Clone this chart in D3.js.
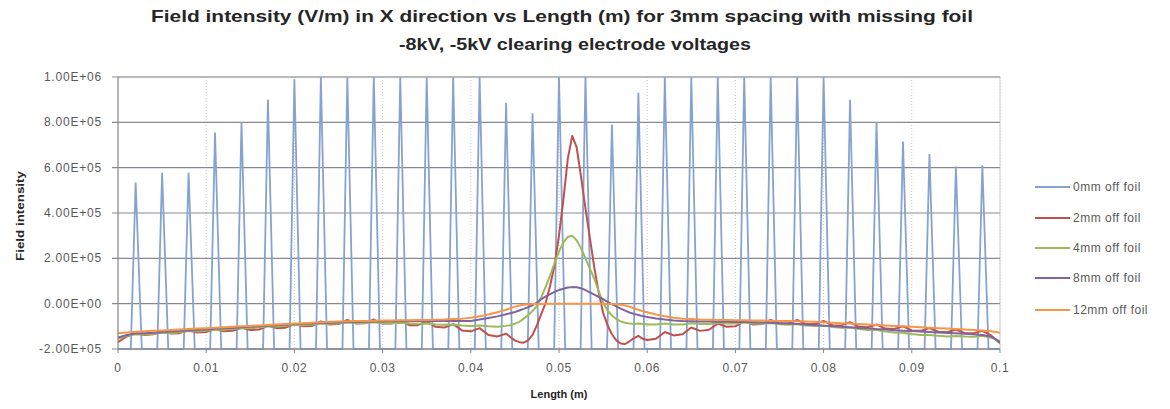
<!DOCTYPE html>
<html><head><meta charset="utf-8">
<script src="https://cdn.jsdelivr.net/npm/d3@7"></script>
<style>
body{margin:0;background:#fff;}
svg{display:block;font-family:"Liberation Sans",Arial,sans-serif;}
</style>
</head><body>
<svg id="chart" width="1170" height="409"></svg>
<script>
// ---------------- DATA ----------------
const titleLines = ["Field intensity (V/m) in X direction vs Length (m) for 3mm spacing with missing foil",
                    "-8kV, -5kV clearing electrode voltages"];
const xAxisTitle = "Length (m)";
const yAxisTitle = "Field intensity";
const seriesNames = ["0mm off foil","2mm off foil","4mm off foil","8mm off foil","12mm off foil"];

// x ticks (length in mm, labelled in m)
const xTickValues = [0,10,20,30,40,50,60,70,80,90,100];
const xTickLabels = ["0","0.01","0.02","0.03","0.04","0.05","0.06","0.07","0.08","0.09","0.1"];
// y ticks (field in units of 1e5 V/m)
const yTickValues = [-2,0,2,4,6,8,10];
const yTickLabels = ["-2.00E+05","0.00E+00","2.00E+05","4.00E+05","6.00E+05","8.00E+05","1.00E+06"];

// 0mm off foil: spikes over each foil (mm, x1e5 V/m), baseline between them
const spikePeakMm = [2,5,8,11,14,17,20,23,26,29,32,35,38,41,44,47,50,53,56,59,62,65,68,71,74,77,80,83,86,89,92,95,98];
const spikePeakField = [5.34,5.78,5.78,7.55,8.00,9.00,9.90,10,10,10,10,10,10,10,8.86,8.40,10,10,7.90,9.30,10,10,10,10,10,10,10,9.00,8.00,7.15,6.60,6.05,6.10];
const spikeBaseField = -2.0;
const spikeRiseMm = 0.55, spikeFallMm = 0.7;

// smooth series sampling positions (mm)
const lengthMm = [0,1,2,3,4,5,6,7,8,9,10,11,12,13,14,15,16,17,18,19,20,21,22,23,24,25,26,27,28,29,30,31,32,33,34,35,36,37,38,39,40,41,42,43,44,
  44.5,45,45.5,46,46.5,47,47.5,48,48.5,49,49.5,50,50.5,51,51.5,52,52.5,53,53.5,54,54.5,55,55.5,56,56.5,57,57.5,58,58.5,59,59.5,60,
  61,62,63,64,65,66,67,68,69,70,71,72,73,74,75,76,77,78,79,80,81,82,83,84,85,86,87,88,89,90,91,92,93,94,95,96,97,98,99,100];

// field values, x1e5 V/m
const field2mm = [-1.70,-1.45,-1.30,-1.38,-1.35,-1.22,-1.32,-1.30,-1.18,-1.27,-1.25,-1.12,-1.22,-1.20,-1.06,-1.16,-1.14,-0.98,-1.08,-1.06,-0.90,-1.00,-0.98,-0.78,-0.92,-0.90,-0.72,-0.88,-0.86,-0.70,-0.88,-0.88,-0.74,-0.95,-0.95,-0.78,-1.02,-1.05,-0.90,-1.18,-1.22,-1.08,-1.38,-1.45,-1.32,
  -1.48,-1.62,-1.70,-1.72,-1.62,-1.38,-0.95,-0.45,0.05,0.80,1.70,3.00,4.60,6.40,7.40,6.90,5.60,4.20,2.90,1.60,0.50,-0.40,-0.95,-1.35,-1.62,-1.76,-1.78,-1.66,-1.52,-1.42,-1.55,-1.60,
  -1.55,-1.25,-1.40,-1.35,-1.05,-1.20,-1.15,-0.88,-1.02,-1.00,-0.78,-0.92,-0.90,-0.72,-0.88,-0.88,-0.72,-0.90,-0.90,-0.76,-0.95,-0.96,-0.82,-1.02,-1.04,-0.92,-1.10,-1.12,-1.00,-1.18,-1.20,-1.08,-1.24,-1.26,-1.14,-1.30,-1.30,-1.20,-1.40,-1.75];
const field4mm = [-1.55,-1.42,-1.35,-1.36,-1.33,-1.28,-1.29,-1.26,-1.21,-1.22,-1.19,-1.14,-1.15,-1.12,-1.07,-1.08,-1.05,-1.00,-1.01,-0.98,-0.93,-0.95,-0.92,-0.87,-0.89,-0.87,-0.83,-0.86,-0.85,-0.82,-0.86,-0.86,-0.84,-0.88,-0.89,-0.87,-0.92,-0.93,-0.92,-0.96,-0.98,-0.96,-1.00,-1.02,-0.98,
  -0.95,-0.88,-0.80,-0.66,-0.50,-0.32,-0.10,0.30,0.75,1.25,1.80,2.30,2.70,2.95,3.00,2.80,2.45,2.00,1.55,1.10,0.55,0.05,-0.30,-0.52,-0.68,-0.78,-0.84,-0.88,-0.90,-0.88,-0.90,-0.92,
  -0.92,-0.88,-0.92,-0.92,-0.86,-0.90,-0.90,-0.84,-0.88,-0.88,-0.83,-0.88,-0.89,-0.85,-0.91,-0.93,-0.90,-0.96,-0.98,-0.96,-1.03,-1.06,-1.05,-1.12,-1.16,-1.16,-1.23,-1.27,-1.28,-1.34,-1.38,-1.38,-1.42,-1.45,-1.43,-1.45,-1.46,-1.42,-1.50,-1.65];
const field8mm = [-1.50,-1.38,-1.32,-1.30,-1.28,-1.25,-1.23,-1.21,-1.18,-1.16,-1.14,-1.11,-1.09,-1.07,-1.04,-1.02,-1.00,-0.97,-0.95,-0.93,-0.90,-0.89,-0.87,-0.85,-0.84,-0.83,-0.81,-0.81,-0.80,-0.79,-0.79,-0.78,-0.78,-0.78,-0.77,-0.77,-0.77,-0.77,-0.77,-0.77,-0.76,-0.70,-0.63,-0.56,-0.47,
  -0.42,-0.37,-0.30,-0.23,-0.15,-0.07,0.05,0.20,0.32,0.42,0.52,0.60,0.66,0.71,0.73,0.72,0.68,0.60,0.50,0.40,0.30,0.20,0.08,-0.02,-0.12,-0.22,-0.31,-0.39,-0.45,-0.50,-0.55,-0.59,
  -0.65,-0.70,-0.74,-0.77,-0.78,-0.79,-0.79,-0.80,-0.80,-0.81,-0.81,-0.82,-0.83,-0.84,-0.86,-0.88,-0.90,-0.92,-0.94,-0.97,-0.99,-1.02,-1.04,-1.07,-1.09,-1.12,-1.14,-1.17,-1.19,-1.21,-1.23,-1.25,-1.27,-1.29,-1.31,-1.33,-1.35,-1.38,-1.45,-1.70];
const field12mm = [-1.30,-1.27,-1.24,-1.22,-1.20,-1.18,-1.16,-1.14,-1.12,-1.10,-1.08,-1.06,-1.04,-1.02,-1.00,-0.98,-0.96,-0.94,-0.92,-0.90,-0.88,-0.86,-0.84,-0.82,-0.80,-0.79,-0.78,-0.77,-0.76,-0.75,-0.74,-0.74,-0.73,-0.73,-0.72,-0.72,-0.71,-0.70,-0.68,-0.66,-0.62,-0.56,-0.48,-0.38,-0.27,
  -0.20,-0.13,-0.08,-0.05,-0.03,-0.02,-0.01,-0.01,0,0,0,0,0,0,0,0,0,0,0,0,0,-0.01,-0.01,-0.02,-0.03,-0.05,-0.08,-0.13,-0.20,-0.27,-0.33,-0.38,
  -0.48,-0.56,-0.62,-0.66,-0.68,-0.70,-0.71,-0.72,-0.72,-0.73,-0.73,-0.74,-0.74,-0.75,-0.76,-0.77,-0.78,-0.79,-0.80,-0.82,-0.84,-0.86,-0.88,-0.90,-0.92,-0.94,-0.96,-0.98,-1.00,-1.02,-1.04,-1.06,-1.08,-1.10,-1.12,-1.14,-1.16,-1.18,-1.22,-1.28];

const seriesColors = ["#86a3cf","#c0504d","#9bbb59","#8064a2","#f79646"];

// ---------------- CHART ----------------
const svg = d3.select("#chart");
const plot = {left:118, right:1000, top:77, bottom:349};
const x = d3.scaleLinear().domain([0,100]).range([plot.left, plot.right]);
const y = d3.scaleLinear().domain([-2,10]).range([plot.bottom, plot.top]);

// title
const title = svg.append("g").attr("font-weight","bold").attr("fill","#262626").attr("font-size",17);
title.append("text").attr("x",562).attr("y",22).attr("text-anchor","middle")
  .attr("textLength",822).attr("lengthAdjust","spacingAndGlyphs").text(titleLines[0]);
title.append("text").attr("x",575).attr("y",50).attr("text-anchor","middle")
  .attr("textLength",352).attr("lengthAdjust","spacingAndGlyphs").text(titleLines[1]);

// plot border + vertical dotted grid
svg.append("rect").attr("x",plot.left).attr("y",plot.top)
  .attr("width",plot.right-plot.left).attr("height",plot.bottom-plot.top)
  .attr("fill","none").attr("stroke","#d0d0d0");
svg.append("g").selectAll("line").data(xTickValues.slice(1)).join("line")
  .attr("x1",d=>x(d)).attr("x2",d=>x(d)).attr("y1",plot.top).attr("y2",plot.bottom)
  .attr("stroke","#c8c8c8").attr("stroke-dasharray","1,2");

// horizontal grid (with tick stubs)
svg.append("g").selectAll("line").data(yTickValues).join("line")
  .attr("x1",plot.left-6).attr("x2",plot.right).attr("y1",d=>y(d)).attr("y2",d=>y(d))
  .attr("stroke","#858b95").attr("stroke-width",1.2);

// clip
svg.append("clipPath").attr("id","clip").append("rect")
  .attr("x",plot.left).attr("y",plot.top-1).attr("width",plot.right-plot.left).attr("height",plot.bottom-plot.top+2);
const gSeries = svg.append("g").attr("clip-path","url(#clip)");
const line = d3.line().x(d=>x(d[0])).y(d=>y(d[1]));

// 0mm series built from spike arrays
const blue = [[0,spikeBaseField]];
spikePeakMm.forEach((p,i)=>{
  blue.push([p-spikeRiseMm,spikeBaseField]);
  blue.push([p,spikePeakField[i]]);
  blue.push([p+spikeFallMm,spikeBaseField]);
});
blue.push([100,spikeBaseField]);
gSeries.append("path").attr("d",line(blue)).attr("fill","none")
  .attr("stroke",seriesColors[0]).attr("stroke-width",1.8).attr("stroke-linejoin","miter");

[field2mm,field4mm,field8mm,field12mm].forEach((vals,i)=>{
  const pts = lengthMm.map((l,j)=>[l,vals[j]]);
  gSeries.append("path").attr("d",line(pts)).attr("fill","none")
    .attr("stroke",seriesColors[i+1]).attr("stroke-width",2).attr("stroke-linejoin","round");
});

// axes lines
svg.append("line").attr("x1",plot.left).attr("x2",plot.left).attr("y1",plot.top).attr("y2",plot.bottom)
  .attr("stroke","#868686");
svg.append("line").attr("x1",plot.left).attr("x2",plot.right).attr("y1",plot.bottom).attr("y2",plot.bottom)
  .attr("stroke","#868686");
svg.append("g").selectAll("line").data(xTickValues).join("line")
  .attr("x1",d=>x(d)).attr("x2",d=>x(d)).attr("y1",plot.bottom).attr("y2",plot.bottom+4)
  .attr("stroke","#868686");

// tick labels
svg.append("g").selectAll("text").data(yTickValues).join("text")
  .attr("x",plot.left-16).attr("y",d=>y(d)+4).attr("text-anchor","end")
  .attr("font-size",12).attr("letter-spacing",0.8).attr("fill","#595959").text((d,i)=>yTickLabels[i]);
svg.append("g").selectAll("text").data(xTickValues).join("text")
  .attr("x",d=>x(d)).attr("y",plot.bottom+23).attr("text-anchor","middle")
  .attr("font-size",12).attr("letter-spacing",0.6).attr("fill","#595959").text((d,i)=>xTickLabels[i]);

// axis titles
svg.append("text").attr("x",559).attr("y",398).attr("text-anchor","middle")
  .attr("font-size",11).attr("font-weight","bold").attr("fill","#262626").text(xAxisTitle);
svg.append("text").attr("transform","translate(24,216) rotate(-90)").attr("text-anchor","middle")
  .attr("font-size",11.5).attr("font-weight","bold").attr("fill","#262626")
  .attr("textLength",90).attr("lengthAdjust","spacingAndGlyphs").text(yAxisTitle);

// legend
const legendY = [187,218,248,278,310];
const lg = svg.append("g").selectAll("g").data(seriesNames).join("g")
  .attr("transform",(d,i)=>`translate(1035,${legendY[i]})`);
lg.append("line").attr("x1",0).attr("x2",35).attr("y1",0).attr("y2",0)
  .attr("stroke",(d,i)=>seriesColors[i]).attr("stroke-width",2);
lg.append("text").attr("x",38).attr("y",4).attr("font-size",12).attr("letter-spacing",0.5)
  .attr("fill","#595959").text(d=>d);
</script>
</body></html>
